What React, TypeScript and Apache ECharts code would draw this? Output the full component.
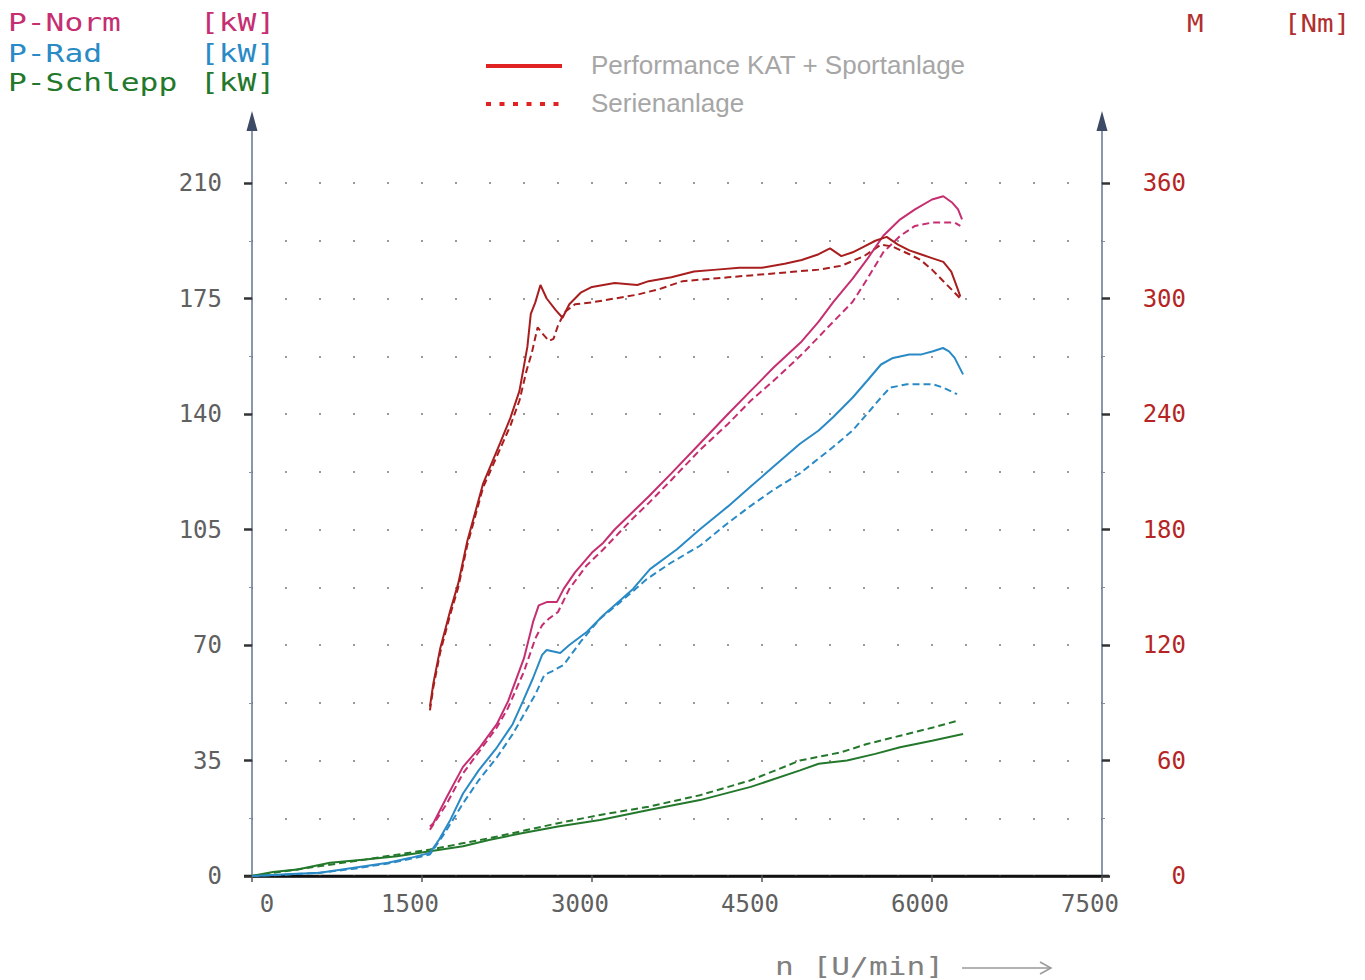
import React, { useEffect, useRef } from "react";
import * as echarts from "echarts";

// ---- tick labels ----
const rpmTicks = [0, 1500, 3000, 4500, 6000, 7500];
const powerTicks = [0, 35, 70, 105, 140, 175, 210];
const torqueTicks = [0, 60, 120, 180, 240, 300, 360];

// ---- Torque M [Nm] ----
const rpmMSport = [1570, 1600, 1660, 1750, 1820, 1900, 2040, 2190, 2280, 2360, 2430, 2460, 2500, 2545, 2600, 2680, 2740, 2800, 2900, 3000, 3200, 3400, 3500, 3700, 3900, 4100, 4300, 4500, 4700, 4850, 5000, 5100, 5200, 5300, 5400, 5500, 5600, 5700, 5800, 5900, 6000, 6100, 6170, 6220, 6250];
const mSport = [88, 100, 118, 138, 152, 174, 204, 225, 238, 252, 275, 292, 298, 307, 300, 294, 290, 297, 303, 306, 308, 307, 309, 311, 314, 315, 316, 316, 318, 320, 323, 326, 322, 324, 327, 330, 332, 328, 325, 323, 321, 319, 314, 306, 301];

const rpmMSerie = [1570, 1600, 1660, 1750, 1820, 1900, 2040, 2190, 2280, 2360, 2420, 2470, 2520, 2560, 2620, 2660, 2700, 2760, 2850, 3000, 3200, 3400, 3600, 3800, 4000, 4200, 4400, 4600, 4800, 5000, 5200, 5400, 5550, 5650, 5800, 5900, 6000, 6100, 6200, 6250];
const mSerie = [86, 98, 116, 136, 150, 172, 202, 222, 234, 247, 262, 272, 285, 282, 278, 279, 286, 293, 297, 298, 300, 302, 305, 309, 310, 311, 312, 313, 314, 315, 317, 322, 328, 327, 323, 320, 315, 309, 303, 300];

// ---- P-Norm [kW] ----
const rpmNormSport = [1570, 1600, 1720, 1860, 2010, 2160, 2260, 2400, 2480, 2530, 2600, 2690, 2750, 2850, 3000, 3100, 3200, 3350, 3500, 3700, 3950, 4200, 4400, 4600, 4850, 5000, 5130, 5300, 5430, 5570, 5720, 5850, 6000, 6100, 6180, 6230, 6265];
const normSport = [15, 16, 24, 33, 39, 46, 53, 66, 77, 82, 83, 83, 87, 92, 98, 101, 105, 110, 115, 122, 131, 140, 147, 154, 162, 168, 174, 181, 187, 194, 199, 202, 205, 206, 204, 202, 199];

const rpmNormSerie = [1570, 1720, 1860, 2010, 2160, 2260, 2400, 2500, 2560, 2620, 2700, 2800, 2950, 3100, 3350, 3500, 3700, 3950, 4200, 4400, 4600, 4850, 5130, 5300, 5430, 5570, 5720, 5850, 6000, 6100, 6200, 6250];
const normSerie = [14, 22, 31, 38, 45, 51, 62, 72, 76, 78, 80, 87, 94, 99, 108, 113, 120, 129, 137, 144, 150, 158, 168, 174, 181, 189, 194, 197, 198, 198, 198, 197];

// ---- P-Rad [kW] ----
const rpmRadSport = [0, 300, 600, 900, 1200, 1400, 1570, 1650, 1750, 1862, 2000, 2162, 2300, 2391, 2480, 2560, 2600, 2720, 2800, 2956, 3100, 3362, 3512, 3750, 3950, 4200, 4400, 4600, 4835, 5000, 5127, 5300, 5426, 5550, 5656, 5800, 5900, 6009, 6097, 6150, 6200, 6274];
const radSport = [0, 0.5, 1, 2.5, 4, 5.5, 7, 11, 17, 25, 32, 39, 46, 53, 60, 67, 68.5, 67.6, 70, 74, 79, 87, 93, 99, 105, 112, 118, 124, 131, 135, 139, 145, 150, 155, 157, 158, 158, 159, 160, 159, 157, 152];

const rpmRadSerie = [0, 300, 600, 900, 1200, 1400, 1570, 1700, 1862, 2000, 2162, 2300, 2400, 2500, 2580, 2647, 2750, 2900, 3071, 3250, 3485, 3700, 3950, 4200, 4394, 4600, 4835, 5127, 5300, 5426, 5550, 5630, 5780, 5900, 6009, 6100, 6221];
const radSerie = [0, 0.4, 1, 2.2, 3.8, 5.2, 6.5, 13, 22, 29, 36, 43, 49, 55, 61, 62, 64, 71, 78, 83, 90, 95, 100, 107, 112, 117, 122, 130, 135, 140, 145, 148, 149, 149, 149, 148, 146];

// ---- P-Schlepp [kW] ----
const rpmSchleppSport = [0, 185, 400, 688, 1000, 1280, 1570, 1862, 2100, 2391, 2700, 3071, 3500, 3953, 4400, 4835, 5000, 5250, 5500, 5718, 6000, 6274];
const schleppSport = [0, 1.2, 2, 4, 5, 6, 7.5, 9, 11, 13, 15, 17, 20, 23, 27, 32, 34, 35, 37, 39, 41, 43];

const rpmSchleppSerie = [0, 500, 1000, 1570, 2100, 2700, 3071, 3500, 3953, 4400, 4835, 5200, 5426, 5718, 6009, 6221];
const schleppSerie = [0, 2.5, 5, 8, 11.5, 16, 18.5, 21, 24.5, 29, 35, 37.5, 40, 42.5, 45, 47];

const legendNames = ["Performance KAT + Sportanlage", "Serienanlage"];

const C_NORM = "#c52f72";
const C_RAD = "#2a8ac6";
const C_SCHLEPP = "#23782c";
const C_M = "#a81e1e";
const MONO = "DejaVu Sans Mono";

const pairs = (xs: number[], ys: number[]) => xs.map((x, i) => [x, ys[i]]);

export default function App() {
  const ref = useRef<HTMLDivElement>(null);
  useEffect(() => {
    document.body.style.margin = "0";
    const chart = echarts.init(ref.current!, null, { renderer: "svg" });
    const dotLine = { color: "#9a9a9a", width: 2, type: [2, 32], dashOffset: 1 };
    const line = (name: string, data: any[], color: string, dashed: boolean, yAxisIndex = 0) => ({
      name,
      type: "line",
      data,
      yAxisIndex,
      showSymbol: false,
      symbol: "none",
      lineStyle: { color, width: 2, type: dashed ? [7, 4] : "solid" },
      z: dashed ? 3 : 4,
    });
    const option: any = {
      animation: false,
      backgroundColor: "#ffffff",
      grid: { left: 252, top: 183, width: 850, height: 693 },
      xAxis: {
        type: "value",
        min: rpmTicks[0],
        max: rpmTicks[rpmTicks.length - 1],
        interval: rpmTicks[1] - rpmTicks[0],
        axisLine: { show: true, lineStyle: { color: "#111", width: 2.5 } },
        axisTick: { show: true, length: 6, lineStyle: { color: "#555", width: 1.5 } },
        axisLabel: {
          margin: 16,
          formatter: (v: number) => (v === 0 ? `{z|0}` : `{n|${v}}`),
          rich: {
            z: { padding: [0, 0, 0, 30], fontFamily: MONO, fontSize: 24, color: "#606060" },
            n: { padding: [0, 24, 0, 0], fontFamily: MONO, fontSize: 24, color: "#606060" },
          },
        },
        splitLine: { show: false },
      },
      yAxis: [
        {
          type: "value",
          min: powerTicks[0],
          max: powerTicks[powerTicks.length - 1],
          interval: powerTicks[1] - powerTicks[0],
          position: "left",
          axisLine: { show: true, lineStyle: { color: "#65758f", width: 1.5 } },
          axisTick: { show: true, length: 8, lineStyle: { color: "#333", width: 2.5 } },
          minorTick: { show: true, splitNumber: 2, length: 3, lineStyle: { color: "#8090a8" } },
          axisLabel: { margin: 30, color: "#606060", fontFamily: MONO, fontSize: 24 },
          splitLine: { show: true, lineStyle: dotLine },
          minorSplitLine: { show: true, lineStyle: dotLine },
        },
        {
          type: "value",
          min: torqueTicks[0],
          max: torqueTicks[torqueTicks.length - 1],
          interval: torqueTicks[1] - torqueTicks[0],
          position: "right",
          axisLine: { show: true, lineStyle: { color: "#65758f", width: 1.5 } },
          axisTick: { show: true, length: 8, lineStyle: { color: "#333", width: 2.5 } },
          minorTick: { show: true, splitNumber: 2, length: 3, lineStyle: { color: "#8090a8" } },
          axisLabel: { margin: 84, align: "right", color: "#b52525", fontFamily: MONO, fontSize: 24 },
          splitLine: { show: false },
        },
      ],
      series: [
        line("P-Schlepp Serie", pairs(rpmSchleppSerie, schleppSerie), C_SCHLEPP, true),
        line("P-Schlepp Sport", pairs(rpmSchleppSport, schleppSport), C_SCHLEPP, false),
        line("P-Rad Serie", pairs(rpmRadSerie, radSerie), C_RAD, true),
        line("P-Rad Sport", pairs(rpmRadSport, radSport), C_RAD, false),
        line("P-Norm Serie", pairs(rpmNormSerie, normSerie), C_NORM, true),
        line("P-Norm Sport", pairs(rpmNormSport, normSport), C_NORM, false),
        line("M Serie", pairs(rpmMSerie, mSerie), C_M, true, 1),
        line("M Sport", pairs(rpmMSport, mSport), C_M, false, 1),
      ],
      graphic: [
        // header labels
        { type: "text", x: 8, y: 23, scaleX: 1.25, style: { text: "P-Norm", fill: C_NORM, fontFamily: MONO, fontSize: 25, verticalAlign: "middle" } },
        { type: "text", x: 200, y: 23, scaleX: 1.25, style: { text: "[kW]", fill: C_NORM, fontFamily: MONO, fontSize: 25, verticalAlign: "middle" } },
        { type: "text", x: 8, y: 54, scaleX: 1.25, style: { text: "P-Rad", fill: C_RAD, fontFamily: MONO, fontSize: 25, verticalAlign: "middle" } },
        { type: "text", x: 200, y: 54, scaleX: 1.25, style: { text: "[kW]", fill: C_RAD, fontFamily: MONO, fontSize: 25, verticalAlign: "middle" } },
        { type: "text", x: 8, y: 83, scaleX: 1.25, style: { text: "P-Schlepp", fill: C_SCHLEPP, fontFamily: MONO, fontSize: 25, verticalAlign: "middle" } },
        { type: "text", x: 200, y: 83, scaleX: 1.25, style: { text: "[kW]", fill: C_SCHLEPP, fontFamily: MONO, fontSize: 25, verticalAlign: "middle" } },
        { type: "text", x: 1187, y: 23, scaleX: 1.1, style: { text: "M", fill: "#b03030", fontFamily: MONO, fontSize: 25, verticalAlign: "middle" } },
        { type: "text", x: 1284, y: 23, scaleX: 1.1, style: { text: "[Nm]", fill: "#b03030", fontFamily: MONO, fontSize: 25, verticalAlign: "middle" } },
        // legend
        { type: "line", shape: { x1: 486, y1: 66, x2: 562, y2: 66 }, style: { stroke: "#e02222", lineWidth: 4 } },
        { type: "line", shape: { x1: 486, y1: 104, x2: 562, y2: 104 }, style: { stroke: "#e02222", lineWidth: 4, lineDash: [5, 8.5] } },
        { type: "text", x: 591, y: 65, style: { text: legendNames[0], fill: "#a6a6a6", fontFamily: "Liberation Sans", fontSize: 26, verticalAlign: "middle" } },
        { type: "text", x: 591, y: 103, style: { text: legendNames[1], fill: "#a6a6a6", fontFamily: "Liberation Sans", fontSize: 26, verticalAlign: "middle" } },
        // axis extensions with arrows
        { type: "line", shape: { x1: 252, y1: 184, x2: 252, y2: 128 }, style: { stroke: "#65758f", lineWidth: 1.5 } },
        { type: "polygon", shape: { points: [[252, 111], [246.5, 131], [257.5, 131]] }, style: { fill: "#3d4a66" } },
        { type: "line", shape: { x1: 1102, y1: 184, x2: 1102, y2: 128 }, style: { stroke: "#65758f", lineWidth: 1.5 } },
        { type: "polygon", shape: { points: [[1102, 111], [1096.5, 131], [1107.5, 131]] }, style: { fill: "#3d4a66" } },
        { type: "line", shape: { x1: 244, y1: 876, x2: 1109, y2: 876 }, style: { stroke: "#111", lineWidth: 2.5 } },
        // x axis name
        { type: "text", x: 775, y: 967, scaleX: 1.3, style: { text: "n [U/min]", fill: "#808080", fontFamily: MONO, fontSize: 24, verticalAlign: "middle" } },
        { type: "line", shape: { x1: 962, y1: 968, x2: 1050, y2: 968 }, style: { stroke: "#9a9a9a", lineWidth: 1.5 } },
        { type: "polyline", shape: { points: [[1040, 962], [1051, 968], [1040, 974]] }, style: { stroke: "#9a9a9a", lineWidth: 1.5, fill: "none" } },
      ],
    };
    chart.setOption(option);
    return () => chart.dispose();
  }, []);
  return <div ref={ref} style={{ width: 1365, height: 980 }} />;
}
